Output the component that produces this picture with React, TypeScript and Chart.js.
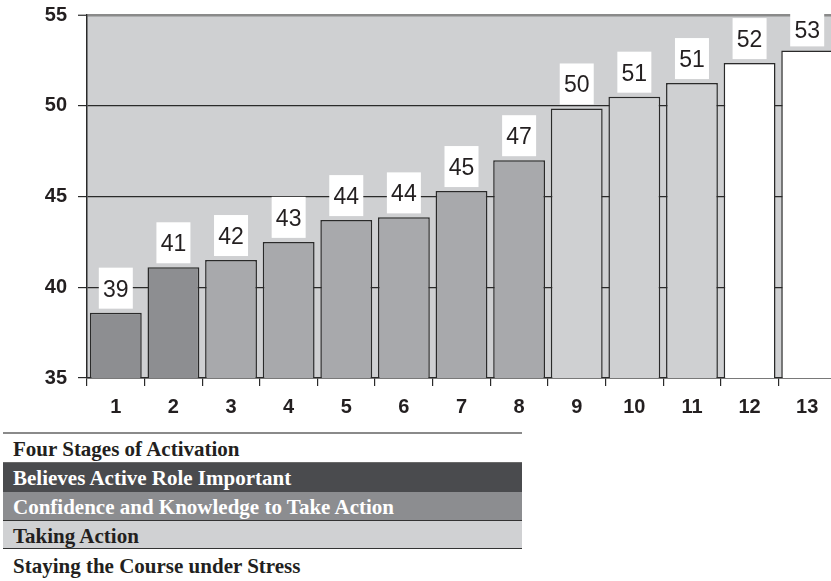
import React, { useEffect, useRef } from "react";
import { Chart, registerables } from "chart.js";

Chart.register(...registerables);

const categories = ["1", "2", "3", "4", "5", "6", "7", "8", "9", "10", "11", "12", "13"];
const values = [38.6, 41.1, 41.5, 42.5, 43.7, 43.85, 45.3, 47.0, 49.85, 50.5, 51.25, 52.35, 53.05];
const valueLabels = ["39", "41", "42", "43", "44", "44", "45", "47", "50", "51", "51", "52", "53"];
const barColors = [
  "#8d8e91", "#8d8e91",
  "#a8a9ac", "#a8a9ac", "#a8a9ac", "#a8a9ac", "#a8a9ac", "#a8a9ac",
  "#cfd0d2", "#cfd0d2", "#cfd0d2",
  "#ffffff", "#ffffff",
];
const yTicks = [35, 40, 45, 50, 55];

const legendRows = [
  { text: "Four Stages of Activation", bg: "#ffffff", color: "#231f20" },
  { text: "Believes Active Role Important", bg: "#4a4b4e", color: "#ffffff" },
  { text: "Confidence and Knowledge to Take Action", bg: "#8c8d90", color: "#ffffff" },
  { text: "Taking Action", bg: "#d0d1d3", color: "#231f20" },
  { text: "Staying the Course under Stress", bg: "#ffffff", color: "#231f20" },
];

const bgPlugin = {
  id: "plotBg",
  beforeDraw(chart: any) {
    const { ctx, chartArea } = chart;
    ctx.save();
    ctx.fillStyle = "#cfd0d2";
    ctx.fillRect(chartArea.left, chartArea.top, chartArea.right - chartArea.left, chartArea.bottom - chartArea.top);
    ctx.restore();
  },
};

const labelPlugin = {
  id: "barLabels",
  afterDatasetsDraw(chart: any) {
    const { ctx } = chart;
    const meta = chart.getDatasetMeta(0);
    ctx.save();
    meta.data.forEach((bar: any, i: number) => {
      const w = 34;
      const h = 41;
      const bottom = bar.y - 4;
      let top = bottom - h;
      if (top < 13) top = 13;
      ctx.fillStyle = "#ffffff";
      ctx.fillRect(bar.x - w / 2, top, w, bottom - top);
      ctx.fillStyle = "#231f20";
      ctx.font = "23px 'Liberation Sans', Arial, sans-serif";
      ctx.textAlign = "center";
      ctx.textBaseline = "middle";
      ctx.fillText(valueLabels[i], bar.x, (top + bottom) / 2 + 2);
    });
    ctx.restore();
  },
};

function BarChart() {
  const ref = useRef<HTMLCanvasElement>(null);
  useEffect(() => {
    if (!ref.current) return;
    const chart = new Chart(ref.current, {
      type: "bar",
      data: {
        labels: categories,
        datasets: [
          {
            data: values,
            backgroundColor: barColors,
            borderColor: "#2a2a2a",
            borderWidth: 1.5,
            barPercentage: 0.9,
            categoryPercentage: 1,
          },
        ],
      },
      options: {
        responsive: false,
        animation: false,
        devicePixelRatio: 1,
        layout: { padding: { top: 15, right: 4, left: 0, bottom: 0 } },
        plugins: { legend: { display: false }, tooltip: { enabled: false } },
        scales: {
          x: {
            offset: true,
            grid: {
              offset: true,
              drawOnChartArea: false,
              tickLength: 8,
              color: "#2a2a2a",
              lineWidth: 1.2,
            },
            border: { display: true, color: "#2a2a2a", width: 1.5 },
            ticks: {
              color: "#231f20",
              font: { family: "'Liberation Sans', Arial, sans-serif", size: 20, weight: "bold" },
              padding: 9,
              maxRotation: 0,
            },
            afterFit(scale: any) {
              scale.height = 52;
              scale.paddingLeft = 0;
              scale.paddingRight = 0;
            },
          },
          y: {
            min: 35,
            max: 55,
            afterBuildTicks(scale: any) {
              scale.ticks = yTicks.map((v) => ({ value: v }));
            },
            grid: {
              tickLength: 9,
              color: (c: any) => (c.tick && c.tick.value === 55 ? "#8a8a8a" : "#2a2a2a"),
              lineWidth: (c: any) => (c.tick && c.tick.value === 55 ? 2.5 : 1.2),
              tickColor: "#2a2a2a",
              tickWidth: 1.2,
            },
            border: { display: true, color: "#2a2a2a", width: 1.5 },
            ticks: {
              color: "#231f20",
              font: { family: "'Liberation Sans', Arial, sans-serif", size: 20, weight: "bold" },
              padding: 11,
            },
            afterFit(scale: any) {
              scale.width = 87;
              scale.paddingTop = 0;
              scale.paddingBottom = 0;
            },
          },
        },
      },
      plugins: [bgPlugin, labelPlugin],
    } as any);
    return () => chart.destroy();
  }, []);
  return <canvas ref={ref} width={840} height={430} style={{ display: "block", width: 840, height: 430 }} />;
}

export default function App() {
  const heights = [29, 29, 28.5, 28.5, 33];
  return (
    <div
      style={{
        position: "absolute",
        left: 0,
        top: 0,
        width: 831,
        height: 581,
        overflow: "hidden",
        background: "#ffffff",
      }}
    >
      <div style={{ position: "absolute", left: 0, top: 0, width: 840, height: 430 }}>
        <BarChart />
      </div>
      <div
        style={{
          position: "absolute",
          left: 3,
          top: 432,
          width: 519,
          borderTop: "2px solid #8a8a8a",
          fontFamily: "'Liberation Serif', 'Times New Roman', serif",
          fontWeight: "bold",
          fontSize: 21,
        }}
      >
        {legendRows.map((r, i) => (
          <div
            key={i}
            style={{
              height: heights[i],
              lineHeight: heights[i] + "px",
              background: r.bg,
              color: r.color,
              paddingLeft: 10,
              boxSizing: "border-box",
              whiteSpace: "nowrap",
              borderBottom: i === 2 || i === 3 ? "1px solid #333" : i === 0 ? "1px solid #6a6a6a" : "none",
              paddingTop: 1,
            }}
          >
            {r.text}
          </div>
        ))}
      </div>
    </div>
  );
}
